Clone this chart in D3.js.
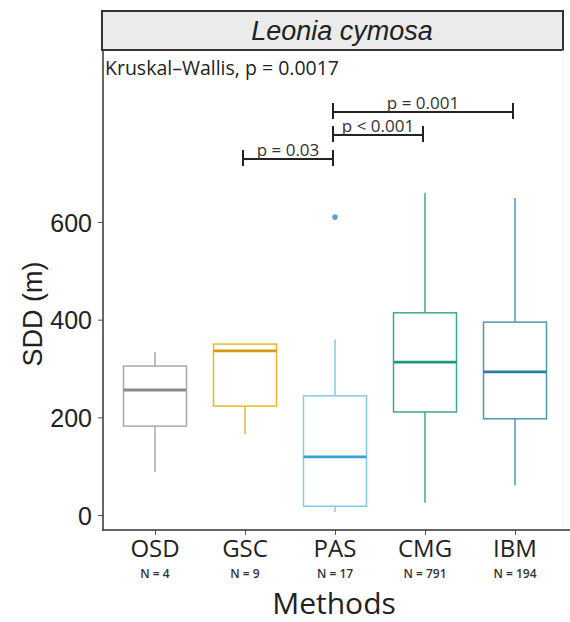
<!DOCTYPE html>
<html>
<head>
<meta charset="utf-8">
<script src="https://cdn.jsdelivr.net/npm/d3@7"></script>
<style>
  body { margin: 0; background: #fff; }
  svg { display: block; }
</style>
</head>
<body>
<svg id="chart" width="570" height="622"></svg>
<script>
// Seed dispersal distance (SDD) by method for Leonia cymosa
const methods = ["OSD", "GSC", "PAS", "CMG", "IBM"];
const sampleSizes = [4, 9, 17, 791, 194];
const whiskerLow = [88, 166, 6, 25, 61];
const q1 = [182, 223, 18, 211, 197];
const medians = [256, 336, 119, 313, 293];
const q3 = [305, 350, 244, 414, 395];
const whiskerHigh = [334, 350, 360, 660, 649];
const outliers = [[], [], [610], [], []];
const boxColors = ["#a8a8a8", "#e8b92a", "#86c8ee", "#3daa8c", "#4f95b8"];
const medianColors = ["#8a8a8a", "#d99c10", "#3c9fd8", "#23967a", "#2a7da3"];
const yTicks = [0, 200, 400, 600];
const comparisons = [
  { from: "PAS", to: "IBM", label: "p = 0.001", level: 0 },
  { from: "PAS", to: "CMG", label: "p < 0.001", level: 1 },
  { from: "GSC", to: "PAS", label: "p = 0.03", level: 2 }
];
const testLabel = "Kruskal\u2013Wallis, p = 0.0017";
const title = "Leonia cymosa";

const svg = d3.select("#chart");
const panel = { left: 103, right: 563, top: 50, bottom: 530 };

const x = d3.scalePoint().domain(methods).range([155, 515]);
const y = d3.scaleLinear().domain([0, 600]).range([515, 222]);
const boxW = 63;

// strip with species name
svg.append("rect")
  .attr("x", panel.left - 1).attr("y", 11)
  .attr("width", panel.right - panel.left + 1).attr("height", 39)
  .attr("fill", "#ebebeb").attr("stroke", "#333").attr("stroke-width", 2);
svg.append("text")
  .attr("x", 342).attr("y", 40)
  .attr("text-anchor", "middle")
  .attr("font-family", "Liberation Sans, Arial, sans-serif")
  .attr("font-style", "italic").attr("font-size", 27).attr("fill", "#222")
  .text(title);

// faint right border of the panel
svg.append("line")
  .attr("x1", panel.right).attr("x2", panel.right)
  .attr("y1", panel.top).attr("y2", panel.bottom)
  .attr("stroke", "#eee").attr("stroke-width", 1);

// boxes
const g = svg.append("g");
methods.forEach((m, i) => {
  const cx = x(m);
  const col = boxColors[i];
  g.append("line")
    .attr("x1", cx).attr("x2", cx)
    .attr("y1", y(whiskerHigh[i])).attr("y2", y(q3[i]))
    .attr("stroke", col).attr("stroke-width", 1.5);
  g.append("line")
    .attr("x1", cx).attr("x2", cx)
    .attr("y1", y(q1[i])).attr("y2", y(whiskerLow[i]))
    .attr("stroke", col).attr("stroke-width", 1.5);
  g.append("rect")
    .attr("x", cx - boxW / 2).attr("y", y(q3[i]))
    .attr("width", boxW).attr("height", y(q1[i]) - y(q3[i]))
    .attr("fill", "#fff").attr("stroke", col).attr("stroke-width", 1.5);
  g.append("line")
    .attr("x1", cx - boxW / 2).attr("x2", cx + boxW / 2)
    .attr("y1", y(medians[i])).attr("y2", y(medians[i]))
    .attr("stroke", medianColors[i]).attr("stroke-width", 2.8);
  outliers[i].forEach(v => {
    g.append("circle")
      .attr("cx", cx).attr("cy", y(v)).attr("r", 2.8)
      .attr("fill", "#5fa3d6");
  });
});

// axes
const yAxis = d3.axisLeft(y).tickValues(yTicks).tickSize(5).tickSizeOuter(0);
const ya = svg.append("g").attr("transform", `translate(${panel.left},0)`).call(yAxis);
ya.select(".domain").remove();
ya.selectAll("line").attr("stroke", "#555");
ya.selectAll("text")
  .attr("font-family", "Liberation Sans, Arial, sans-serif")
  .attr("font-size", 25).attr("fill", "#222").attr("x", -11).attr("dy", "0.36em");

const xAxis = d3.axisBottom(x).tickSize(5).tickSizeOuter(0).tickFormat("");
const xa = svg.append("g").attr("transform", `translate(0,${panel.bottom})`).call(xAxis);
xa.select(".domain").remove();
xa.selectAll("line").attr("stroke", "#555");

svg.append("line")
  .attr("x1", panel.left).attr("x2", panel.left)
  .attr("y1", panel.top).attr("y2", panel.bottom + 1)
  .attr("stroke", "#333").attr("stroke-width", 1.5);
svg.append("line")
  .attr("x1", panel.left).attr("x2", 570)
  .attr("y1", panel.bottom).attr("y2", panel.bottom)
  .attr("stroke", "#333").attr("stroke-width", 1.5);

// category labels with sample sizes
methods.forEach((m, i) => {
  svg.append("text")
    .attr("x", x(m)).attr("y", 557)
    .attr("text-anchor", "middle")
    .attr("font-family", "Open Sans, sans-serif")
    .attr("font-size", 24).attr("fill", "#222")
    .text(m);
  svg.append("text")
    .attr("x", x(m)).attr("y", 578)
    .attr("text-anchor", "middle")
    .attr("font-family", "Open Sans, sans-serif")
    .attr("font-size", 12).attr("font-weight", 600).attr("fill", "#333")
    .text(`N = ${sampleSizes[i]}`);
});

// axis titles
svg.append("text")
  .attr("x", 334).attr("y", 614)
  .attr("text-anchor", "middle")
  .attr("font-family", "Open Sans, sans-serif")
  .attr("font-size", 30).attr("fill", "#222")
  .text("Methods");
svg.append("text")
  .attr("transform", "translate(42,314) rotate(-90)")
  .attr("text-anchor", "middle")
  .attr("font-family", "Liberation Sans, Arial, sans-serif")
  .attr("font-size", 27).attr("fill", "#222")
  .text("SDD (m)");

// global test label
svg.append("text")
  .attr("x", 105).attr("y", 75)
  .attr("font-family", "Open Sans, sans-serif")
  .attr("font-size", 19.5).attr("fill", "#222")
  .text(testLabel);

// pairwise comparison brackets
const bracketY = [112, 135, 159];
comparisons.forEach(c => {
  const by = bracketY[c.level];
  const x1 = x(c.from) - 2, x2 = x(c.to) - 2;
  const b = svg.append("g").attr("stroke", "#222").attr("stroke-width", 2);
  b.append("line").attr("x1", x1).attr("x2", x2).attr("y1", by).attr("y2", by);
  b.append("line").attr("x1", x1).attr("x2", x1).attr("y1", by - 9).attr("y2", by + 7);
  b.append("line").attr("x1", x2).attr("x2", x2).attr("y1", by - 9).attr("y2", by + 7);
  svg.append("text")
    .attr("x", (x1 + x2) / 2).attr("y", by - 3)
    .attr("text-anchor", "middle")
    .attr("font-family", "Open Sans, sans-serif")
    .attr("font-size", 17).attr("fill", "#333")
    .text(c.label);
});
</script>
</body>
</html>
